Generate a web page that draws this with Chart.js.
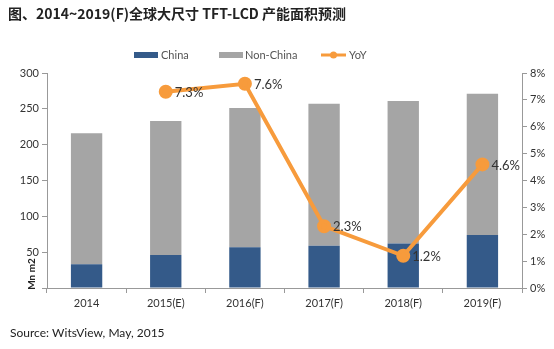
<!DOCTYPE html>
<html><head><meta charset="utf-8">
<script src="https://cdn.jsdelivr.net/npm/chart.js@4/dist/chart.umd.min.js"></script>
<style>html,body{margin:0;padding:0;background:#fff;}#wrap{position:relative;width:554px;height:349px;}</style>
</head><body><div id="wrap"><canvas id="c" width="554" height="349"></canvas></div>
<script>
const categories = ['2014','2015(E)','2016(F)','2017(F)','2018(F)','2019(F)'];
const chinaValues = [33, 46, 57, 59, 62, 74];
const nonChinaValues = [183, 187, 194, 198, 199, 197];
const yoyValues = [null, 7.3, 7.6, 2.3, 1.2, 4.6];
const leftTicks = [0, 50, 100, 150, 200, 250, 300];
const rightTicks = [0, 1, 2, 3, 4, 5, 6, 7, 8];
const titleText = '图、2014~2019(F)全球大尺寸 TFT-LCD 产能面积预测';
const sourceText = 'Source: WitsView, May, 2015';

const FONT = 'Lato, "Open Sans", sans-serif';
const BLUE = '#345A89', GREY = '#A5A5A5', ORANGE = '#F79B3C';

const extras = {
  id: 'extras',
  afterDatasetsDraw(chart) {
    const ctx = chart.ctx;
    const meta = chart.getDatasetMeta(2);
    ctx.save();
    ctx.font = '13px ' + FONT;
    ctx.fillStyle = '#333';
    ctx.textBaseline = 'middle';
    ctx.textAlign = 'left';
    meta.data.forEach((pt, i) => {
      const v = yoyValues[i];
      if (v == null) return;
      ctx.fillText(v.toFixed(1) + '%', pt.x + 9, pt.y + 1);
    });
    ctx.restore();
  },
  afterDraw(chart) {
    const ctx = chart.ctx;
    ctx.save();
    ctx.fillStyle = '#222';
    ctx.font = 'bold 14px "Noto Sans CJK SC", sans-serif';
    ctx.textBaseline = 'middle';
    ctx.textAlign = 'left';
    ctx.fillText(titleText, 8, 14);
    ctx.font = '11px ' + FONT;
    const ly = 55;
    ctx.fillStyle = BLUE; ctx.fillRect(134, ly - 3, 24, 6);
    ctx.fillStyle = '#555'; ctx.fillText('China', 161, ly);
    ctx.fillStyle = GREY; ctx.fillRect(219, ly - 3, 24, 6);
    ctx.fillStyle = '#555'; ctx.fillText('Non-China', 245, ly);
    ctx.strokeStyle = ORANGE; ctx.lineWidth = 3;
    ctx.beginPath(); ctx.moveTo(321, ly); ctx.lineTo(346, ly); ctx.stroke();
    ctx.fillStyle = ORANGE; ctx.beginPath(); ctx.arc(333.5, ly, 3.5, 0, Math.PI * 2); ctx.fill();
    ctx.fillStyle = '#555'; ctx.fillText('YoY', 349, ly);
    ctx.font = '12px ' + FONT;
    ctx.fillStyle = '#222';
    ctx.fillText(sourceText, 10, 333);
    ctx.translate(32, 274);
    ctx.rotate(-Math.PI / 2);
    ctx.font = 'bold 10px ' + FONT;
    ctx.textAlign = 'center';
    ctx.fillStyle = '#222';
    ctx.fillText('Mn m2', 0, 0);
    ctx.restore();
  }
};

new Chart(document.getElementById('c'), {
  type: 'bar',
  data: {
    labels: categories,
    datasets: [
      { label: 'China', data: chinaValues, backgroundColor: BLUE, yAxisID: 'y', order: 2, barPercentage: 0.66, categoryPercentage: 0.6 },
      { label: 'Non-China', data: nonChinaValues, backgroundColor: GREY, yAxisID: 'y', order: 2, barPercentage: 0.66, categoryPercentage: 0.6 },
      { type: 'line', label: 'YoY', data: yoyValues, yAxisID: 'y1', borderColor: ORANGE, backgroundColor: ORANGE,
        borderWidth: 4, pointRadius: 5, pointHoverRadius: 5, tension: 0, order: 0, spanGaps: false }
    ]
  },
  options: {
    responsive: false,
    animation: false,
    devicePixelRatio: 1,
    layout: { padding: { top: 73, left: 0, right: 0, bottom: 0 } },
    plugins: { legend: { display: false }, title: { display: false }, tooltip: { enabled: false } },
    scales: {
      x: {
        stacked: true,
        grid: { display: true, drawOnChartArea: false, offset: true, tickLength: 5, color: '#999' },
        border: { color: '#999' },
        ticks: { color: '#333', font: { size: 11, family: FONT }, padding: 4 },
        afterFit(s) { s.height = 61; }
      },
      y: {
        stacked: true, min: 0, max: 300,
        afterBuildTicks(s) { s.ticks = leftTicks.map(v => ({ value: v })); },
        grid: { display: true, drawOnChartArea: false, tickLength: 5, color: '#999' },
        border: { color: '#999' },
        ticks: { color: '#333', font: { size: 11, family: FONT }, padding: 3, callback: v => v === 0 ? '' : v },
        afterFit(s) { s.width = 47; }
      },
      y1: {
        position: 'right', min: 0, max: 8,
        afterBuildTicks(s) { s.ticks = rightTicks.map(v => ({ value: v })); },
        grid: { display: true, drawOnChartArea: false, tickLength: 5, color: '#999' },
        border: { color: '#999' },
        ticks: { color: '#333', font: { size: 11, family: FONT }, padding: 3, callback: v => v + '%' },
        afterFit(s) { s.width = 32; }
      }
    }
  },
  plugins: [extras]
});
</script></body></html>
